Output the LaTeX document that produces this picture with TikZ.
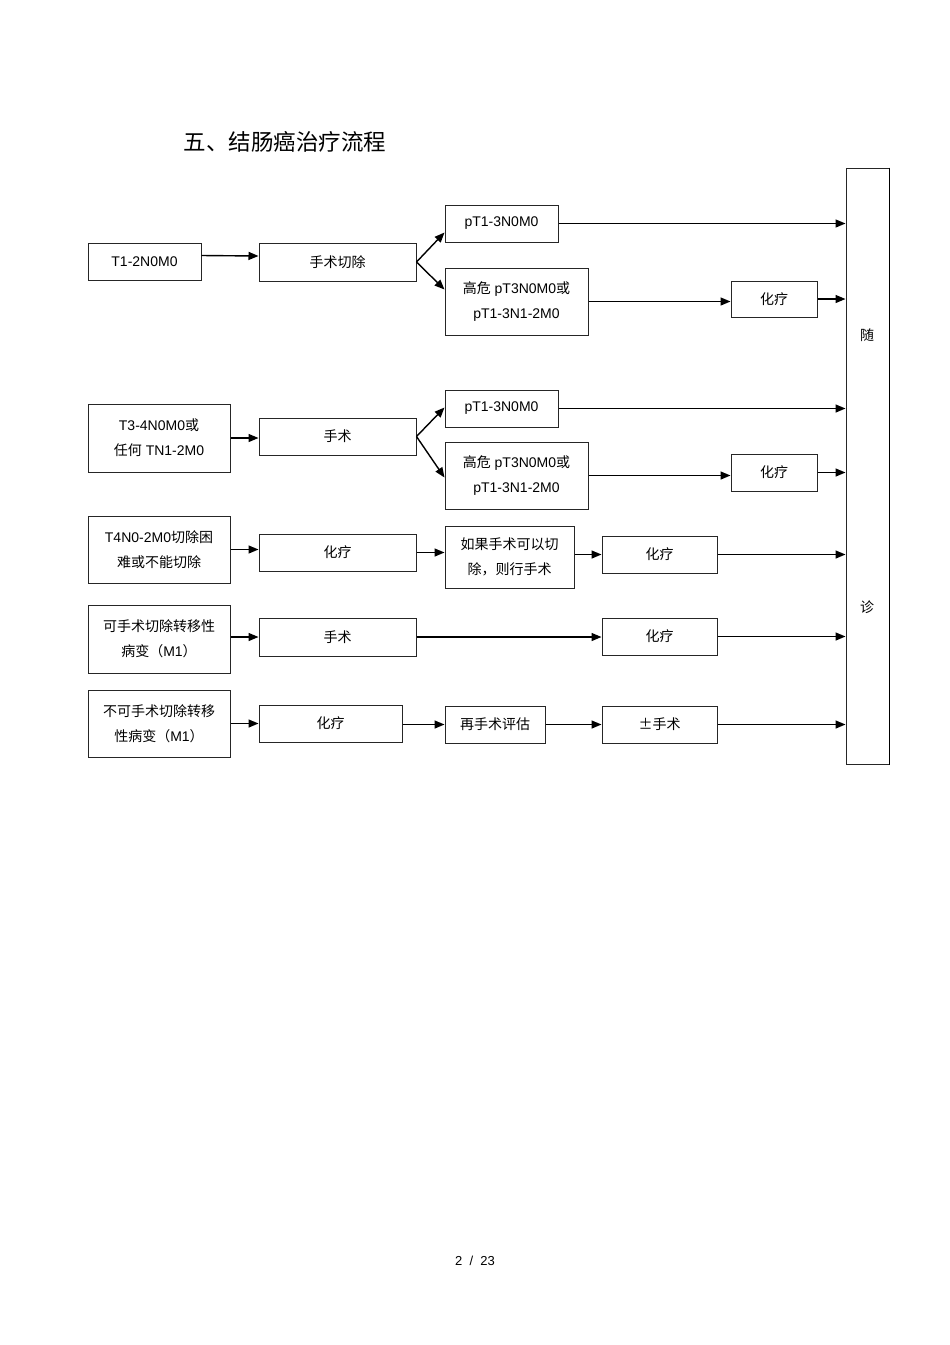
\documentclass[tikz,border=0pt]{standalone}
\usepackage{fontspec}
\setmainfont{Liberation Sans}
\newfontfamily\cjk{Noto Sans CJK SC}
\usetikzlibrary{arrows.meta,calc}
\newcommand{\zh}[1]{{\cjk #1}}
\tikzset{
	box/.style={draw=black!85, line width=1pt, inner sep=0pt, align=center, font=\fontsize{14}{25}\selectfont},
	arr/.style={line width=1.4pt, -{Triangle[length=10pt,width=8pt]}},
}

\begin{document}
\begin{tikzpicture}[x=1pt,y=-1pt]
		\useasboundingbox (0,0) rectangle (950,1345);
		%%%%% START %%%%%
		
		\node[font=\cjk\fontsize{22.5}{22.5}\selectfont, anchor=west] (title) at (180,142) {五、结肠癌治疗流程};
		
		\node[box, minimum width=43, minimum height=596] (sz) at (867.5,466) {};
		\draw[line width=1.8pt] (sz.north east) -- (sz.south east);
		\node[font=\cjk\fontsize{14}{14}\selectfont] (sui) at (867,335) {随};
		\node[font=\cjk\fontsize{14}{14}\selectfont] (zhen) at (867,607) {诊};
		
		% T1-2N0M0
		\node[box, minimum width=113, minimum height=37] (a1) at (144.5,261.5) {T1-2N0M0};
		\node[box, minimum width=157, minimum height=38] (a2) at (337.5,262) {\zh{手术切除}};
		\node[box, minimum width=113, minimum height=37] (a3) at (501.5,223.5) {pT1-3N0M0};
		\node[box, minimum width=143, minimum height=67] (a4) at (516.5,301.5) {\zh{高危} pT3N0M0\zh{或}\\pT1-3N1-2M0};
		\node[box, minimum width=86, minimum height=36] (a5) at (774,299) {\zh{化疗}};
		
		\draw[arr] ($(a1.east)+(0,-6)$) -- ($(a2.west)+(0,-6)$);
		\draw[arr] (a2.east) -- ($(a3.south west)+(0,-10)$);
		\draw[arr] (a2.east) -- ($(a4.north west)+(0,22)$);
		\draw[arr] (a3) -- (a3 -| sz.west);
		\draw[arr] (a4.east) -- (a4.east -| a5.west);
		\draw[arr] (a5.east) -- (a5.east -| sz.west);
		
		% T3-4N0M0
		\node[box, minimum width=142, minimum height=68] (b1) at (159,438) {T3-4N0M0\zh{或}\\\zh{任何} TN1-2M0};
		\node[box, minimum width=157, minimum height=37] (b2) at (337.5,436.5) {\zh{手术}};
		\node[box, minimum width=113, minimum height=37] (b3) at (501.5,408.5) {pT1-3N0M0};
		\node[box, minimum width=143, minimum height=67] (b4) at (516.5,475.5) {\zh{高危} pT3N0M0\zh{或}\\pT1-3N1-2M0};
		\node[box, minimum width=86, minimum height=37] (b5) at (774,472.5) {\zh{化疗}};
		
		\draw[arr] (b1.east) -- (b1.east -| b2.west);
		\draw[arr] (b2.east) -- ($(b3.south west)+(0,-20)$);
		\draw[arr] (b2.east) -- ($(b4.west)+(0,2)$);
		\draw[arr] (b3) -- (b3 -| sz.west);
		\draw[arr] (b4.east) -- (b4.east -| b5.west);
		\draw[arr] (b5.east) -- (b5.east -| sz.west);
		
		% T4N0-2M0
		\node[box, minimum width=142, minimum height=67] (c1) at (159,549.5) {T4N0-2M0\zh{切除困}\\\zh{难或不能切除}};
		\node[box, minimum width=157, minimum height=37] (c2) at (337.5,552.5) {\zh{化疗}};
		\node[box, minimum width=129, minimum height=62] (c3) at (509.5,557) {\zh{如果手术可以切}\\\zh{除，则行手术}};
		\node[box, minimum width=115, minimum height=37] (c4) at (659.5,554.5) {\zh{化疗}};
		
		\draw[arr] (c1.east) -- (c1.east -| c2.west);
		\draw[arr] (c2.east) -- (c2.east -| c3.west);
		\draw[arr] (c4.west -| c3.east) -- (c4.west);
		\draw[arr] (c4.east) -- (c4.east -| sz.west);
		
		% M1
		\node[box, minimum width=142, minimum height=68] (d1) at (159,639) {\zh{可手术切除转移性}\\\zh{病变（}M1\zh{）}};
		\node[box, minimum width=157, minimum height=38] (d2) at (337.5,637) {\zh{手术}};
		\node[box, minimum width=115, minimum height=37] (d3) at (659.5,636.5) {\zh{化疗}};
		
		\draw[arr] (d1.east |- d2) -- (d2.west);
		\draw[arr] (d2.east) -- (d2.east -| d3.west);
		\draw[arr] (d3.east) -- (d3.east -| sz.west);
		
		\node[box, minimum width=142, minimum height=67] (e1) at (159,723.5) {\zh{不可手术切除转移}\\\zh{性病变（}M1\zh{）}};
		\node[box, minimum width=143, minimum height=37] (e2) at (330.5,723.5) {\zh{化疗}};
		\node[box, minimum width=100, minimum height=37] (e3) at (495,724.5) {\zh{再手术评估}};
		\node[box, minimum width=115, minimum height=37] (e4) at (659.5,724.5) {\zh{±手术}};
		
		\draw[arr] (e1.east) -- (e1.east -| e2.west);
		\draw[arr] (e2.east |- e3) -- (e3.west);
		\draw[arr] (e3.east) -- (e3.east -| e4.west);
		\draw[arr] (e4.east) -- (e4.east -| sz.west);
		
		\node[font=\fontsize{13}{13}\selectfont] (pg) at (475,1261) {2 \ / \ 23};
		
		%%%%% END %%%%%
\end{tikzpicture}
\end{document}
